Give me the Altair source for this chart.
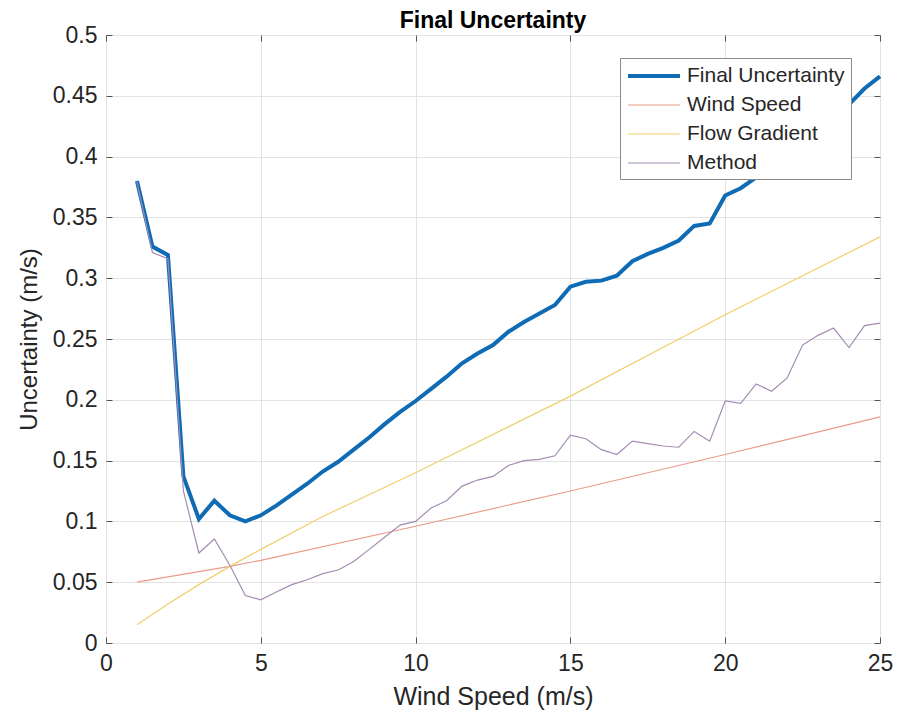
import altair as alt
import pandas as pd

# ---------------- data ----------------
ws_half = [1, 1.5, 2, 2.5, 3, 3.5, 4, 4.5, 5, 5.5, 6, 6.5, 7, 7.5, 8, 8.5, 9, 9.5,
           10, 10.5, 11, 11.5, 12, 12.5, 13, 13.5, 14, 14.5, 15, 15.5, 16, 16.5,
           17, 17.5, 18, 18.5, 19, 19.5, 20, 20.5, 21, 21.5, 22, 22.5, 23, 23.5,
           24, 24.5, 25]

final_unc = [0.380, 0.326, 0.319, 0.137, 0.102, 0.117, 0.105, 0.100, 0.105, 0.113,
             0.122, 0.131, 0.141, 0.149, 0.159, 0.169, 0.180, 0.190, 0.199, 0.209,
             0.219, 0.230, 0.238, 0.245, 0.256, 0.264, 0.271, 0.278, 0.293, 0.297,
             0.298, 0.302, 0.314, 0.320, 0.325, 0.331, 0.343, 0.345, 0.368, 0.374,
             0.383, 0.392, 0.401, 0.412, 0.421, 0.430, 0.443, 0.456, 0.466]

method = [0.379, 0.321, 0.316, 0.125, 0.074, 0.0855, 0.064, 0.039, 0.0355, 0.042,
          0.048, 0.052, 0.057, 0.060, 0.067, 0.077, 0.087, 0.097, 0.100, 0.111,
          0.117, 0.129, 0.134, 0.137, 0.146, 0.150, 0.151, 0.154, 0.171, 0.168,
          0.159, 0.155, 0.166, 0.164, 0.162, 0.161, 0.174, 0.166, 0.199, 0.197,
          0.213, 0.207, 0.218, 0.245, 0.253, 0.259, 0.243, 0.261, 0.263]

wind_x = [1, 4, 5, 10, 15, 20, 25]
wind_speed = [0.050, 0.063, 0.068, 0.096, 0.125, 0.155, 0.186]

flow_x = [1, 2, 3, 4, 5, 7, 10, 15, 20, 25]
flow_gradient = [0.015, 0.032, 0.048, 0.063, 0.077, 0.104, 0.140, 0.203, 0.270, 0.334]

series_names = ["Final Uncertainty", "Wind Speed", "Flow Gradient", "Method"]
series_colors = ["#0E6BB4", "#EA9C88", "#F0CF6E", "#A48CB3"]
series_widths = [4, 1.2, 1.2, 1.2]

x_ticks = [0, 5, 10, 15, 20, 25]
y_ticks = [0, 0.05, 0.1, 0.15, 0.2, 0.25, 0.3, 0.35, 0.4, 0.45, 0.5]

rows = []
for x, v in zip(ws_half, final_unc):
    rows.append({"ws": x, "u": v, "series": "Final Uncertainty"})
for x, v in zip(wind_x, wind_speed):
    rows.append({"ws": x, "u": v, "series": "Wind Speed"})
for x, v in zip(flow_x, flow_gradient):
    rows.append({"ws": x, "u": v, "series": "Flow Gradient"})
for x, v in zip(ws_half, method):
    rows.append({"ws": x, "u": v, "series": "Method"})
df = pd.DataFrame(rows)

# ---------------- chart ----------------
W, H = 774, 608
FONT = "Liberation Sans"
TXT = "#262626"
xscale = alt.Scale(domain=[0, 25], nice=False, zero=False)
yscale = alt.Scale(domain=[0, 0.5], nice=False, zero=False)

base = alt.Chart(df)

legend = alt.Legend(
    title=None, orient="none", legendX=514, legendY=23,
    fillColor="white", strokeColor="#8c8c8c", padding=6,
    labelFont=FONT, labelFontSize=21, labelColor=TXT, labelLimit=400,
    symbolType="M-2.6,0H2.6", symbolSize=400, symbolOffset=16,
    labelOffset=21, rowPadding=8,
)

lines = base.mark_line().encode(
    x=alt.X("ws:Q", scale=xscale, axis=alt.Axis(
        values=x_ticks, title="Wind Speed (m/s)", grid=True, ticks=False,
        domain=False, labelFont=FONT, labelFontSize=23, labelColor=TXT,
        labelPadding=9, titleFont=FONT, titleFontSize=25, titleFontWeight="normal",
        titleColor=TXT, titlePadding=9, gridColor="#e3e3e3", labelFlush=False)),
    y=alt.Y("u:Q", scale=yscale, axis=alt.Axis(
        values=y_ticks, format="~g", title="Uncertainty (m/s)", grid=True,
        ticks=False, domain=False, labelFont=FONT, labelFontSize=23,
        labelColor=TXT, labelPadding=9, titleFont=FONT, titleFontSize=24,
        titleFontWeight="normal", titleColor=TXT, titlePadding=11,
        gridColor="#e3e3e3", labelFlush=False)),
    color=alt.Color("series:N", scale=alt.Scale(domain=series_names, range=series_colors),
                    legend=legend),
    strokeWidth=alt.StrokeWidth("series:N",
                                scale=alt.Scale(type="ordinal", domain=series_names, range=series_widths),
                                legend=legend),
)

tick_style = dict(labels=False, title=None, grid=False, domain=False,
                  tickSize=6, tickColor="#555555", tickWidth=1)

ticks_a = base.mark_point(opacity=0).encode(
    x=alt.X("ws:Q", scale=xscale, axis=alt.Axis(orient="top", offset=-H, values=x_ticks, **tick_style)),
    y=alt.Y("u:Q", scale=yscale, axis=alt.Axis(orient="right", offset=-W, values=y_ticks, **tick_style)),
)
ticks_b = base.mark_point(opacity=0).encode(
    x=alt.X("ws:Q", scale=xscale, axis=alt.Axis(orient="bottom", offset=-H, values=x_ticks, **tick_style)),
    y=alt.Y("u:Q", scale=yscale, axis=alt.Axis(orient="left", offset=-W, values=y_ticks, **tick_style)),
)

chart = alt.layer(lines, ticks_a, ticks_b).resolve_axis(
    x="independent", y="independent"
).properties(
    width=W, height=H,
    title=alt.Title("Final Uncertainty", font=FONT, fontSize=23, fontWeight="bold",
                    color="#000000", anchor="middle", offset=-9),
    autosize=alt.AutoSizeParams(type="none"),
    padding={"left": 98, "top": 27, "right": 20, "bottom": 68},
).configure_view(
    stroke="#7f7f7f", strokeWidth=1.2
).configure(background="white")

chart.save("out.html", embed_options={"renderer": "svg", "actions": False})
